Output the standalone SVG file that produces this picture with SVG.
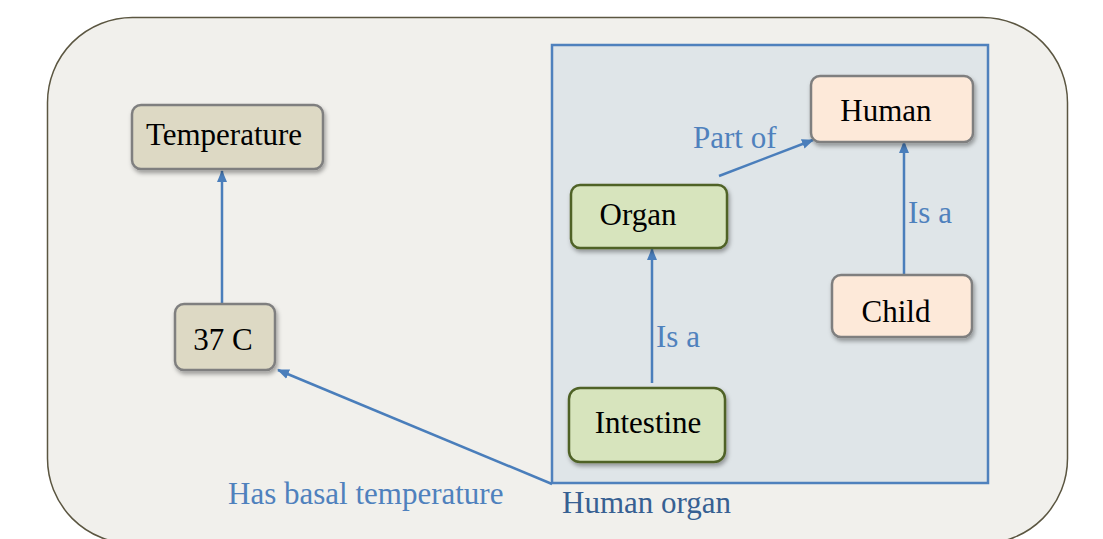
<svg xmlns="http://www.w3.org/2000/svg" width="1103" height="539" viewBox="0 0 1103 539">
<style>
text{font-family:"Liberation Serif","Times New Roman",serif;font-size:31px}
.lbl{fill:#000;text-anchor:middle}
.edge{fill:#4f81bd}
.ln{stroke:#4a7ebb;stroke-width:2.5;fill:none}
.tan{fill:#ddd9c4;stroke:#7f7f7f;stroke-width:2.5}
.peach{fill:#fde9d9;stroke:#7f7f7f;stroke-width:2.5}
.green{fill:#d7e4bd;stroke:#4f6228;stroke-width:2.5}
</style>
<defs>
<filter id="sh" x="-20%" y="-20%" width="140%" height="150%">
<feDropShadow dx="1.5" dy="3" stdDeviation="2" flood-color="#000" flood-opacity="0.35"/>
</filter>
<marker id="ah" markerUnits="userSpaceOnUse" markerWidth="14" markerHeight="12" refX="11" refY="5" orient="auto">
<path d="M0,0 L12,5 L0,10 z" fill="#4a7ebb"/>
</marker>
</defs>
<rect width="1103" height="539" fill="#fff"/>
<rect id="frame" x="47.5" y="17.5" width="1020" height="526" rx="85" fill="#f1f0ec" stroke="#5b5641" stroke-width="1.5"/>
<g id="container">
<rect x="552" y="45" width="436" height="438" fill="#dfe5e8" stroke="#4f81bd" stroke-width="2.5"/>
<text x="562" y="513" fill="#376092">Human organ</text>
</g>
<g id="connectors">
<line class="ln" x1="222" y1="304" x2="222" y2="171" marker-end="url(#ah)"/>
<line class="ln" x1="552" y1="484" x2="278" y2="370" marker-end="url(#ah)"/>
<line class="ln" x1="719" y1="176" x2="813" y2="140" marker-end="url(#ah)"/>
<line class="ln" x1="652" y1="383" x2="652" y2="249" marker-end="url(#ah)"/>
<line class="ln" x1="904" y1="275" x2="904" y2="142" marker-end="url(#ah)"/>
<text class="edge" x="228" y="504">Has basal temperature</text>
<text class="edge" x="693" y="148">Part of</text>
<text class="edge" x="656" y="347">Is a</text>
<text class="edge" x="908" y="223">Is a</text>
</g>
<g id="temperature">
<rect class="tan" x="132" y="105" width="191" height="64" rx="9" filter="url(#sh)"/>
<text class="lbl" x="224" y="145">Temperature</text>
</g>
<g id="c37">
<rect class="tan" x="175" y="304" width="100" height="66" rx="9" filter="url(#sh)"/>
<text class="lbl" x="223" y="350">37 C</text>
</g>
<g id="human">
<rect class="peach" x="811" y="76" width="162" height="66" rx="9" filter="url(#sh)"/>
<text class="lbl" x="886" y="121">Human</text>
</g>
<g id="organ">
<rect class="green" x="571" y="185" width="156" height="63" rx="9" filter="url(#sh)"/>
<text class="lbl" x="638" y="225">Organ</text>
</g>
<g id="intestine">
<rect class="green" x="569" y="388" width="156" height="74" rx="11" filter="url(#sh)"/>
<text class="lbl" x="648" y="433">Intestine</text>
</g>
<g id="child">
<rect class="peach" x="832" y="275" width="140" height="62" rx="9" filter="url(#sh)"/>
<text class="lbl" x="896" y="322">Child</text>
</g>
</svg>
